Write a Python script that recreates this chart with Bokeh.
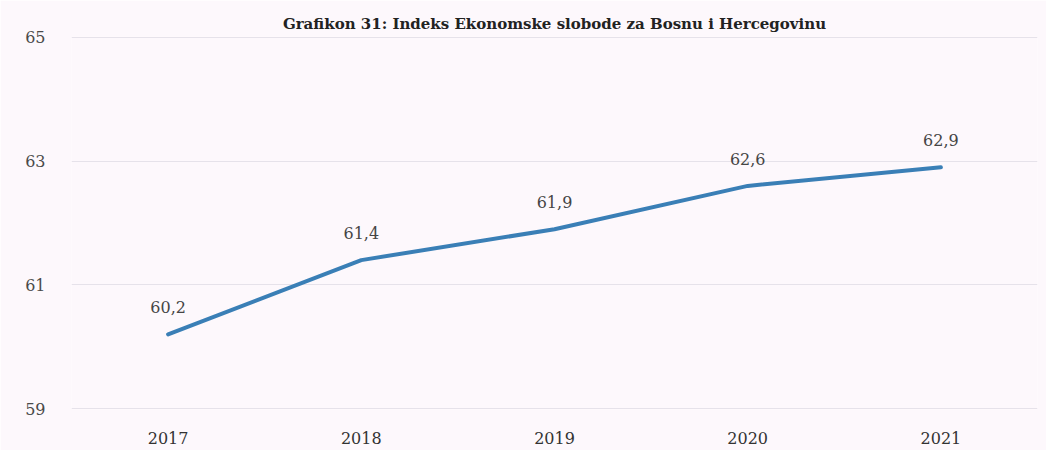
from bokeh.plotting import figure
from bokeh.models import ColumnDataSource, LabelSet, FactorRange, Range1d, FixedTicker, Title
from bokeh.embed import file_html
from bokeh.resources import INLINE
from bokeh.core.properties import value

title_text = "Grafikon 31: Indeks Ekonomske slobode za Bosnu i Hercegovinu"
years = ["2017", "2018", "2019", "2020", "2021"]
index_values = [60.2, 61.4, 61.9, 62.6, 62.9]
y_ticks = [59, 61, 63, 65]

labels = [f"{v:.1f}".replace(".", ",") for v in index_values]
src = ColumnDataSource(dict(x=years, y=index_values, lab=labels))

FONT = "DejaVu Serif"
bg = "#fdf8fc"
p = figure(width=1046, height=450, x_range=FactorRange(*years, range_padding=0),
           y_range=Range1d(58.985, 65.015), output_backend="svg", toolbar_location=None,
           min_border_left=71, min_border_right=9, min_border_top=36, min_border_bottom=41,
           background_fill_color=bg, border_fill_color=bg, outline_line_color=None)

p.add_layout(Title(text=title_text, align="center", text_font=FONT,
                   text_font_size="15px", text_font_style="bold", text_color="#222222",
                   offset=0, standoff=7), "above")

p.line("x", "y", source=src, line_color="#3a7fb6", line_width=4, line_join="round", line_cap="round")

p.add_layout(LabelSet(x="x", y="y", text="lab", source=src, y_offset=21,
                      text_align="center", text_baseline="bottom",
                      text_font=value(FONT), text_font_size="16px",
                      text_color="#454545"))

p.yaxis.ticker = FixedTicker(ticks=y_ticks)
p.yaxis.axis_line_color = None
p.yaxis.major_tick_line_color = None
p.yaxis.minor_tick_line_color = None
p.yaxis.major_label_standoff = 20
p.yaxis.major_label_text_font = FONT
p.yaxis.major_label_text_font_size = "16px"
p.yaxis.major_label_text_color = "#4a4a4a"

p.xaxis.axis_line_color = None
p.xaxis.major_tick_line_color = None
p.xaxis.minor_tick_line_color = None
p.xaxis.major_label_standoff = 16
p.xaxis.major_label_text_font = FONT
p.xaxis.major_label_text_font_size = "16px"
p.xaxis.major_label_text_color = "#333333"

p.xgrid.grid_line_color = None
p.ygrid.grid_line_color = "#e6e2ea"
p.ygrid.grid_line_width = 1

open("out.html", "w").write(file_html(p, INLINE))
